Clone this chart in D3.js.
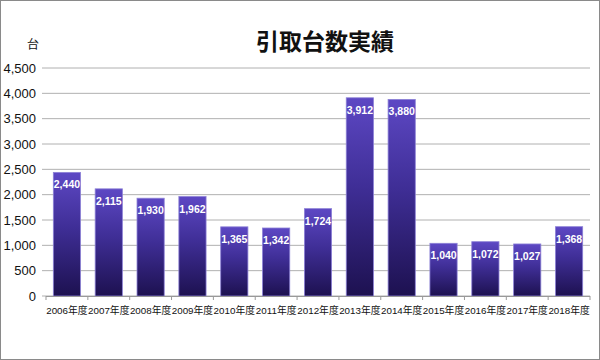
<!DOCTYPE html>
<html>
<head>
<meta charset="utf-8">
<script src="https://cdn.jsdelivr.net/npm/d3@7"></script>
<style>
  body { margin: 0; background: #fff; }
  svg { display: block; font-family: "Liberation Sans", "Noto Sans CJK JP", sans-serif; }
</style>
</head>
<body>
<div id="chart"></div>
<script>
const years = ["2006年度", "2007年度", "2008年度", "2009年度", "2010年度", "2011年度", "2012年度",
    "2013年度", "2014年度", "2015年度", "2016年度", "2017年度", "2018年度"];
const counts = [2440, 2115, 1930, 1962, 1365, 1342, 1724, 3912, 3880, 1040, 1072, 1027, 1368];
const yTicks = [0, 500, 1000, 1500, 2000, 2500, 3000, 3500, 4000, 4500];

const width = 600, height = 360;
const margin = {top: 68, right: 10, bottom: 64, left: 46};

const svg = d3.select("#chart").append("svg")
    .attr("width", width)
    .attr("height", height);

// frame
svg.append("rect")
    .attr("x", 0.5).attr("y", 0.5)
    .attr("width", width - 1).attr("height", height - 1)
    .attr("fill", "#fff")
    .attr("stroke", "#8a8a8a");

const defs = svg.append("defs");
const grad = defs.append("linearGradient")
    .attr("id", "barGrad")
    .attr("x1", 0).attr("y1", 0).attr("x2", 0).attr("y2", 1);
grad.append("stop").attr("offset", "0%").attr("stop-color", "#5d48c4");
grad.append("stop").attr("offset", "45%").attr("stop-color", "#3f2e96");
grad.append("stop").attr("offset", "100%").attr("stop-color", "#1d1150");

const x = d3.scaleBand()
    .domain(years)
    .range([margin.left, width - margin.right])
    .paddingInner(0.35)
    .paddingOuter(0.175);

const y = d3.scaleLinear()
    .domain([0, 4500])
    .range([height - margin.bottom, margin.top]);

// grid lines
svg.append("g")
    .selectAll("line")
    .data(yTicks)
    .join("line")
    .attr("x1", margin.left - 4)
    .attr("x2", width - margin.right)
    .attr("y1", d => y(d))
    .attr("y2", d => y(d))
    .attr("stroke", "#b0b0b0")
    .attr("stroke-width", 1);

// y labels
svg.append("g")
    .selectAll("text")
    .data(yTicks)
    .join("text")
    .attr("x", margin.left - 10)
    .attr("y", d => y(d))
    .attr("dy", "0.36em")
    .attr("text-anchor", "end")
    .attr("font-size", 13)
    .attr("fill", "#111")
    .text(d => d3.format(",")(d));

// bars
const data = years.map((k, i) => ({key: k, value: counts[i]}));

svg.append("g")
    .selectAll("rect")
    .data(data)
    .join("rect")
    .attr("x", d => x(d.key))
    .attr("y", d => y(d.value))
    .attr("width", x.bandwidth())
    .attr("height", d => y(0) - y(d.value))
    .attr("fill", "url(#barGrad)")
    .attr("stroke", "#8c80d6")
    .attr("stroke-width", 0.8);

svg.append("g")
    .selectAll("text")
    .data(data)
    .join("text")
    .attr("x", d => x(d.key) + x.bandwidth() / 2)
    .attr("y", d => y(d.value) + 16)
    .attr("text-anchor", "middle")
    .attr("font-size", 10.5)
    .attr("font-weight", "bold")
    .attr("fill", "#fff")
    .text(d => d3.format(",")(d.value));

// x axis
const xAxis = svg.append("g")
    .attr("transform", `translate(0, ${y(0)})`);
xAxis.append("line")
    .attr("x1", margin.left).attr("x2", width - margin.right)
    .attr("y1", 0.5).attr("y2", 0.5)
    .attr("stroke", "#999");
const bounds = d3.range(years.length + 1).map(i => margin.left + i * x.step() + x.step() * x.paddingOuter() - x.step() * x.paddingInner() / 2);
xAxis.selectAll(".tick")
    .data(bounds)
    .join("line")
    .attr("x1", d => d).attr("x2", d => d)
    .attr("y1", 0).attr("y2", 4)
    .attr("stroke", "#999");
xAxis.selectAll(".xl")
    .data(years)
    .join("text")
    .attr("class", "xl")
    .attr("x", d => x(d) + x.bandwidth() / 2)
    .attr("y", 18)
    .attr("text-anchor", "middle")
    .attr("font-size", 9.8)
    .attr("fill", "#111")
    .text(d => d);

// title and unit
svg.append("text")
    .attr("x", 325)
    .attr("y", 50)
    .attr("text-anchor", "middle")
    .attr("font-size", 23)
    .attr("font-weight", "bold")
    .attr("font-family", "Noto Sans CJK JP")
    .attr("fill", "#111")
    .text("引取台数実績");

svg.append("text")
    .attr("x", 33)
    .attr("y", 49)
    .attr("text-anchor", "middle")
    .attr("font-size", 12)
    .attr("font-family", "Noto Sans CJK JP")
    .attr("fill", "#111")
    .text("台");
</script>
</body>
</html>
